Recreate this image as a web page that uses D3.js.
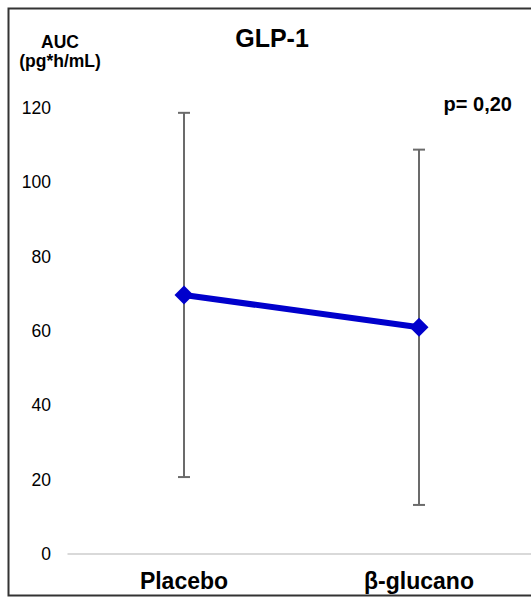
<!DOCTYPE html>
<html>
<head>
<meta charset="utf-8">
<script src="https://cdn.jsdelivr.net/npm/d3@7"></script>
<style>
  html, body { margin: 0; padding: 0; background: #fff; }
  svg { display: block; font-family: "Liberation Sans", Arial, sans-serif; }
</style>
</head>
<body>
<svg id="chart" width="531" height="598"></svg>
<script>
// GLP-1 AUC (pg*h/mL): mean ± SD per treatment
const categories = ["Placebo", "β-glucano"];
const meanValues = [69.7, 61.0];
const sdValues = [49.0, 47.8];
const yTickValues = [0, 20, 40, 60, 80, 100, 120];
const titleText = "GLP-1";
const pValueText = "p= 0,20";

const FONT = "Liberation Sans, Arial, sans-serif";
const svg = d3.select("#chart");

// outer frame
svg.append("rect")
  .attr("x", 8.5).attr("y", 8.5)
  .attr("width", 540).attr("height", 587)
  .attr("fill", "#fff")
  .attr("stroke", "#333").attr("stroke-width", 2);

const plot = { left: 66.5, right: 536.5, top: 108, bottom: 554 };

const x = d3.scaleBand()
  .domain(categories)
  .range([plot.left, plot.right])
  .padding(0);
const xc = c => x(c) + x.bandwidth() / 2;

const y = d3.scaleLinear()
  .domain([0, 120])
  .range([plot.bottom, plot.top]);

// y tick labels (no axis line)
const yAxis = d3.axisLeft(y).tickValues(yTickValues).tickSize(0).tickPadding(0);
const yG = svg.append("g")
  .attr("transform", `translate(51,0)`)
  .call(yAxis);
yG.select(".domain").remove();
yG.selectAll("text")
  .attr("font-size", 17.5)
  .attr("font-family", FONT)
  .attr("fill", "#000");

// baseline at zero
svg.append("line")
  .attr("x1", plot.left + 1).attr("x2", plot.right)
  .attr("y1", y(0)).attr("y2", y(0))
  .attr("stroke", "#d9d9d9").attr("stroke-width", 2);

// category labels
const xAxis = d3.axisBottom(x).tickSize(0).tickPadding(0);
const xG = svg.append("g")
  .attr("transform", `translate(0,${y(0)})`)
  .call(xAxis);
xG.select(".domain").remove();
xG.selectAll("text")
  .attr("dy", null)
  .attr("y", 35)
  .attr("font-size", 23)
  .attr("font-weight", "bold")
  .attr("font-family", FONT)
  .attr("fill", "#000");

const data = categories.map((c, i) => ({ c, m: meanValues[i], sd: sdValues[i] }));

// error bars
const capHalf = 6;
const eb = svg.append("g").attr("stroke", "#6b6b6b").attr("stroke-width", 2);
data.forEach(d => {
  const cx = xc(d.c);
  eb.append("line").attr("x1", cx).attr("x2", cx)
    .attr("y1", y(d.m + d.sd)).attr("y2", y(d.m - d.sd));
  eb.append("line").attr("x1", cx - capHalf).attr("x2", cx + capHalf)
    .attr("y1", y(d.m + d.sd)).attr("y2", y(d.m + d.sd));
  eb.append("line").attr("x1", cx - capHalf).attr("x2", cx + capHalf)
    .attr("y1", y(d.m - d.sd)).attr("y2", y(d.m - d.sd));
});

// mean line
const line = d3.line().x(d => xc(d.c)).y(d => y(d.m));
svg.append("path")
  .datum(data)
  .attr("d", line)
  .attr("fill", "none")
  .attr("stroke", "#0000cc")
  .attr("stroke-width", 6);

// diamond markers
const diamond = d3.symbol().type(d3.symbolDiamond2).size(230);
svg.selectAll(".marker")
  .data(data)
  .enter().append("path")
  .attr("class", "marker")
  .attr("d", diamond)
  .attr("transform", d => `translate(${xc(d.c)},${y(d.m)})`)
  .attr("fill", "#0000cc");

// title and annotations
svg.append("text")
  .attr("x", 272).attr("y", 47)
  .attr("text-anchor", "middle")
  .attr("font-size", 25).attr("font-weight", "bold")
  .text(titleText);

svg.append("text")
  .attr("x", 60).attr("y", 48)
  .attr("text-anchor", "middle")
  .attr("font-size", 17.5).attr("font-weight", "bold")
  .text("AUC");
svg.append("text")
  .attr("x", 60).attr("y", 67)
  .attr("text-anchor", "middle")
  .attr("font-size", 17.5).attr("font-weight", "bold")
  .text("(pg*h/mL)");

svg.append("text")
  .attr("x", 512).attr("y", 111)
  .attr("text-anchor", "end")
  .attr("font-size", 20).attr("font-weight", "bold")
  .text(pValueText);
</script>
</body>
</html>
